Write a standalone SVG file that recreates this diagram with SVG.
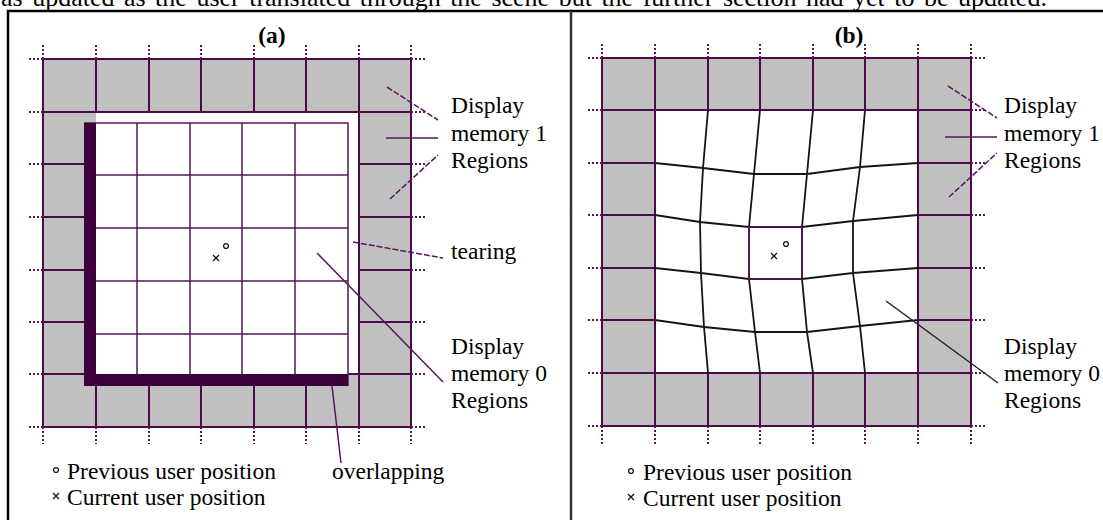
<svg xmlns="http://www.w3.org/2000/svg" width="1103" height="520" viewBox="0 0 1103 520">
  <style>
    .txt { font-family: "Liberation Serif", "Times New Roman", serif; font-size: 23.5px; fill: #000; }
    .bold { font-weight: bold; }
    .gray { fill: #c0c0c0; }
    .white { fill: #ffffff; }
    .grid { stroke: #4b0b4b; stroke-width: 2; fill: none; }
    .thin { stroke: #5a165a; stroke-width: 1.5; fill: none; }
    .stub { stroke: #5a165a; stroke-width: 2; stroke-dasharray: 2 2; fill: none; }
    .bar { fill: #3c003c; }
    .warp { stroke: #141414; stroke-width: 1.8; fill: none; stroke-linejoin: round; }
    .lead { stroke: #5a165a; stroke-width: 1.5; fill: none; }
    .dash { stroke-dasharray: 6 2; }
    .sym { stroke: #111; stroke-width: 1.3; fill: none; }
    .frame { stroke: #000; stroke-width: 2.5; fill: none; }
  </style>
  <defs>
    <g id="prev"><circle cx="0" cy="0" r="2.4" class="sym"/></g>
    <g id="curr"><path d="M-3 -3L3 3M-3 3L3 -3" class="sym"/></g>
  </defs>

  <rect width="1103" height="520" fill="#fff"/>

  <!-- running text line above the figure (justified) -->
  <text class="txt" x="1" y="6" style="font-size:26px; word-spacing:3px">as updated as the user translated through the scene but the further section had yet to be updated.</text>

  <!-- figure frame -->
  <path class="frame" d="M8 520V11H1103"/>
  <path d="M571 11V520" stroke="#333" stroke-width="2.5"/>

  <!-- ===== panel (a): memory regions with tearing and overlapping ===== -->
  <g id="panel-a">
    <text class="txt bold" x="272" y="43" text-anchor="middle">(a)</text>

    <g id="a-memory1">
      <rect class="gray" x="43" y="59" width="368" height="368"/>
      <rect class="white" x="96" y="112" width="263" height="262"/>
      <path class="grid" d="M43 59H411M43 112H411M43 374H411M43 427H411
        M43 164H96M43 217H96M43 270H96M43 322H96
        M359 164H411M359 217H411M359 270H411M359 322H411
        M43 59V427M359 59V427M411 59V427
        M96 59V112M149 59V112M201 59V112M254 59V112M306 59V112
        M96 374V427M149 374V427M201 374V427M254 374V427M306 374V427"/>
      <path class="stub" d="M29 59H43M29 112H43M29 164H43M29 217H43M29 270H43M29 322H43M29 374H43M29 427H43
        M411 59H426M411 112H426M411 164H426M411 217H426M411 270H426M411 322H426M411 374H426M411 427H426
        M43 45V59M96 45V59M149 45V59M201 45V59M254 45V59M306 45V59M359 45V59M411 45V59
        M43 427V444M96 427V444M149 427V444M201 427V444M254 427V444M306 427V444M359 427V444M411 427V444"/>
    </g>

    <g id="a-memory0">
      <rect class="white" x="84" y="123" width="264" height="263"/>
      <path class="thin" d="M84 123H348V386
        M137 123V374M190 123V374M242 123V374M295 123V374
        M96 175H348M96 228H348M96 281H348M96 334H348"/>
      <!-- overlapping strip -->
      <path class="bar" d="M84 123H96V374H348V386H84Z"/>
    </g>

    <g id="a-user">
      <use href="#prev" x="226" y="246"/>
      <use href="#curr" x="216" y="258"/>
    </g>

    <g id="a-labels">
      <text class="txt" x="451" y="113">Display</text>
      <text class="txt" x="451" y="141">memory 1</text>
      <text class="txt" x="451" y="168">Regions</text>
      <text class="txt" x="451" y="259">tearing</text>
      <text class="txt" x="451" y="354">Display</text>
      <text class="txt" x="451" y="381">memory 0</text>
      <text class="txt" x="451" y="408">Regions</text>
      <text class="txt" x="332" y="479">overlapping</text>
      <use href="#prev" x="56" y="470"/>
      <text class="txt" x="67" y="479">Previous user position</text>
      <use href="#curr" x="56" y="496"/>
      <text class="txt" x="67" y="505">Current user position</text>
    </g>

    <g id="a-connectors">
      <path class="lead dash" d="M387 87L438 120"/>
      <path class="lead" d="M386 138H438"/>
      <path class="lead dash" d="M390 199L438 155"/>
      <path class="lead dash" d="M353 242L443 258"/>
      <path class="lead" d="M317 253L443 382"/>
      <path class="lead" d="M332 386L336 420L341 463"/>
    </g>
  </g>

  <!-- ===== panel (b): warped memory-0 grid ===== -->
  <g id="panel-b">
    <text class="txt bold" x="849" y="43" text-anchor="middle">(b)</text>

    <g id="b-memory1">
      <rect class="gray" x="602" y="58" width="369" height="368"/>
      <rect class="white" x="655" y="110" width="263" height="263"/>
      <path class="grid" d="M602 58H971M602 110H971M602 373H971M602 426H971
        M602 163H655M602 215H655M602 268H655M602 320H655
        M918 163H971M918 215H971M918 268H971M918 320H971
        M602 58V426M655 58V426M918 58V426M971 58V426
        M708 58V110M760 58V110M813 58V110M865 58V110
        M708 373V426M760 373V426M813 373V426M865 373V426"/>
      <path class="stub" d="M588 58H602M588 110H602M588 163H602M588 215H602M588 268H602M588 320H602M588 373H602M588 426H602
        M971 58H986M971 110H986M971 163H986M971 215H986M971 268H986M971 320H986M971 373H986M971 426H986
        M602 44V58M655 44V58M708 44V58M760 44V58M813 44V58M865 44V58M918 44V58M971 44V58
        M602 426V444M655 426V444M708 426V444M760 426V444M813 426V444M865 426V444M918 426V444M971 426V444"/>
    </g>

    <g id="b-memory0">
      <path class="warp" d="M655 163L703 168L754 174L807 174L860 167L918 163
        M655 215L700 222L749 227L802 227L853 221L918 215
        M655 268L701 273L749 279L802 279L853 273L918 268
        M655 320L704 327L755 332L807 332L860 326L918 320
        M708 110L703 168L700 222L701 273L704 327L708 373
        M760 110L754 174L749 227L749 279L755 332L760 373
        M813 110L807 174L802 227L802 279L807 332L813 373
        M865 110L860 167L853 221L853 273L860 326L865 373"/>
      <rect class="thin" x="749" y="227" width="53" height="52"/>
    </g>

    <g id="b-user">
      <use href="#prev" x="786" y="244"/>
      <use href="#curr" x="774" y="256"/>
    </g>

    <g id="b-labels">
      <text class="txt" x="1004" y="113">Display</text>
      <text class="txt" x="1004" y="141">memory 1</text>
      <text class="txt" x="1004" y="168">Regions</text>
      <text class="txt" x="1004" y="354">Display</text>
      <text class="txt" x="1004" y="381">memory 0</text>
      <text class="txt" x="1004" y="408">Regions</text>
      <use href="#prev" x="631" y="471"/>
      <text class="txt" x="643" y="480">Previous user position</text>
      <use href="#curr" x="631" y="497"/>
      <text class="txt" x="643" y="506">Current user position</text>
    </g>

    <g id="b-connectors">
      <path class="lead dash" d="M948 86L997 118"/>
      <path class="lead" d="M945 137H997"/>
      <path class="lead dash" d="M949 197L997 153"/>
      <path d="M886 301L998 383" stroke="#222" stroke-width="1.5"/>
    </g>
  </g>
</svg>
